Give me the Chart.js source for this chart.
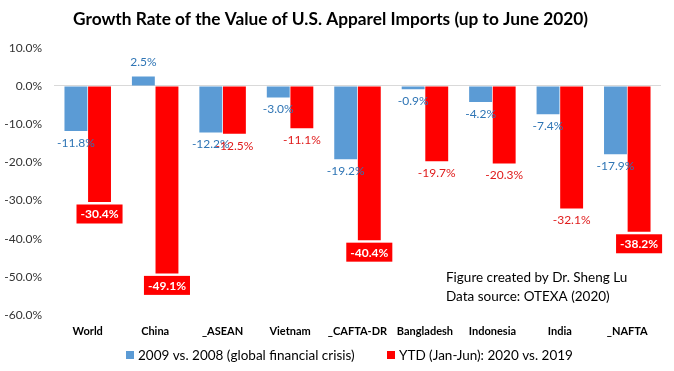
<!DOCTYPE html>
<html>
<head>
<meta charset="utf-8">
<script src="https://cdn.jsdelivr.net/npm/chart.js@4/dist/chart.umd.min.js"></script>
<style>
html,body{margin:0;padding:0;background:#fff;}
#wrap{width:674px;height:371px;position:relative;}
</style>
</head>
<body>
<div id="wrap"><canvas id="c" width="674" height="371"></canvas></div>
<script>
const categories = ['World','China','_ASEAN','Vietnam','_CAFTA-DR','Bangladesh','Indonesia','India','_NAFTA'];
const crisis2009 = [-11.8, 2.5, -12.2, -3.0, -19.2, -0.9, -4.2, -7.4, -17.9];
const ytd2020 = [-30.4, -49.1, -12.5, -11.1, -40.4, -19.7, -20.3, -32.1, -38.2];
const seriesNames = ['2009 vs. 2008 (global financial crisis)', 'YTD (Jan-Jun): 2020 vs. 2019'];
const yTicks = [10, 0, -10, -20, -30, -40, -50, -60];
const titleText = 'Growth Rate of the Value of U.S. Apparel Imports (up to June 2020)';
const noteLines = ['Figure created by Dr. Sheng Lu', 'Data source: OTEXA (2020)'];
const highlighted = ['World', 'China', '_CAFTA-DR', '_NAFTA'];

const FONT = 'Lato, "Open Sans", sans-serif';
const COLORS = ['#5B9BD5', '#FF0000'];

const labelPlugin = {
  id: 'barLabels',
  afterDatasetsDraw(chart) {
    const ctx = chart.ctx;
    ctx.save();
    chart.data.datasets.forEach((ds, di) => {
      const meta = chart.getDatasetMeta(di);
      meta.data.forEach((bar, i) => {
        const v = ds.data[i];
        const txt = v.toFixed(1) + '%';
        const neg = v < 0;
        ctx.textAlign = 'center';
        ctx.textBaseline = 'middle';
        const boxed = di === 1 && highlighted.includes(categories[i]);
        if (boxed) {
          ctx.font = 'bold 12px ' + FONT;
          const w = ctx.measureText(txt).width + 8;
          const h = 19;
          const cy = bar.y + 12;
          ctx.fillStyle = '#FF0000';
          ctx.fillRect(bar.x - w / 2, cy - h / 2, w, h);
          ctx.fillStyle = '#FFFFFF';
          ctx.fillText(txt, bar.x, cy + 0.5);
        } else {
          ctx.font = '12px ' + FONT;
          ctx.fillStyle = di === 0 ? '#2F75B5' : '#E01B1B';
          const y = neg ? bar.y + 12 : bar.y - 14;
          ctx.fillText(txt, bar.x, y);
        }
      });
    });
    ctx.restore();
  },
  afterDraw(chart) {
    const ctx = chart.ctx;
    ctx.save();
    ctx.font = '13.5px ' + FONT;
    ctx.fillStyle = '#000';
    ctx.textAlign = 'left';
    ctx.textBaseline = 'middle';
    ctx.fillText(noteLines[0], 446, 278);
    ctx.fillText(noteLines[1], 446, 297);
    // legend
    const legendY = 355;
    const legendX = [126, 387];
    chart.data.datasets.forEach((ds, di) => {
      ctx.fillStyle = ds.backgroundColor;
      ctx.fillRect(legendX[di], legendY - 4, 8, 8);
      ctx.fillStyle = '#000';
      ctx.font = '13.5px ' + FONT;
      ctx.fillText(ds.label, legendX[di] + 12, legendY + 0.5);
    });
    ctx.restore();
  }
};

new Chart(document.getElementById('c'), {
  type: 'bar',
  data: {
    labels: categories,
    datasets: [
      { label: seriesNames[0], data: crisis2009, backgroundColor: COLORS[0], categoryPercentage: 0.7, barPercentage: 0.97 },
      { label: seriesNames[1], data: ytd2020, backgroundColor: COLORS[1], categoryPercentage: 0.7, barPercentage: 0.97 }
    ]
  },
  options: {
    responsive: false,
    animation: false,
    devicePixelRatio: 1,
    layout: { padding: { left: 0, right: 13, top: 0, bottom: 33 } },
    plugins: {
      title: {
        display: true,
        text: titleText,
        color: '#000',
        font: { family: FONT, size: 17.3, weight: 'bold' },
        padding: { top: 9, bottom: 18 }
      },
      legend: { display: false },
      tooltip: { enabled: false }
    },
    scales: {
      x: {
        afterFit(s) { s.height = 23; },
        grid: { display: false, drawTicks: false },
        border: { display: false },
        ticks: { color: '#000', font: { family: FONT, size: 11, weight: 'bold' }, padding: 10, maxRotation: 0, minRotation: 0, autoSkip: false }
      },
      y: {
        min: -60,
        max: 10,
        afterFit(s) { s.width = 54; },
        afterBuildTicks(s) { s.ticks = yTicks.map(v => ({ value: v })); },
        grid: {
          drawTicks: false,
          color: (c) => c.tick && c.tick.value === 0 ? '#D9D9D9' : 'rgba(0,0,0,0)'
        },
        border: { display: false },
        ticks: {
          color: '#333',
          font: { family: FONT, size: 12 },
          padding: 12,
          callback: (v) => Number(v).toFixed(1) + '%'
        }
      }
    }
  },
  plugins: [labelPlugin]
});
</script>
</body>
</html>
